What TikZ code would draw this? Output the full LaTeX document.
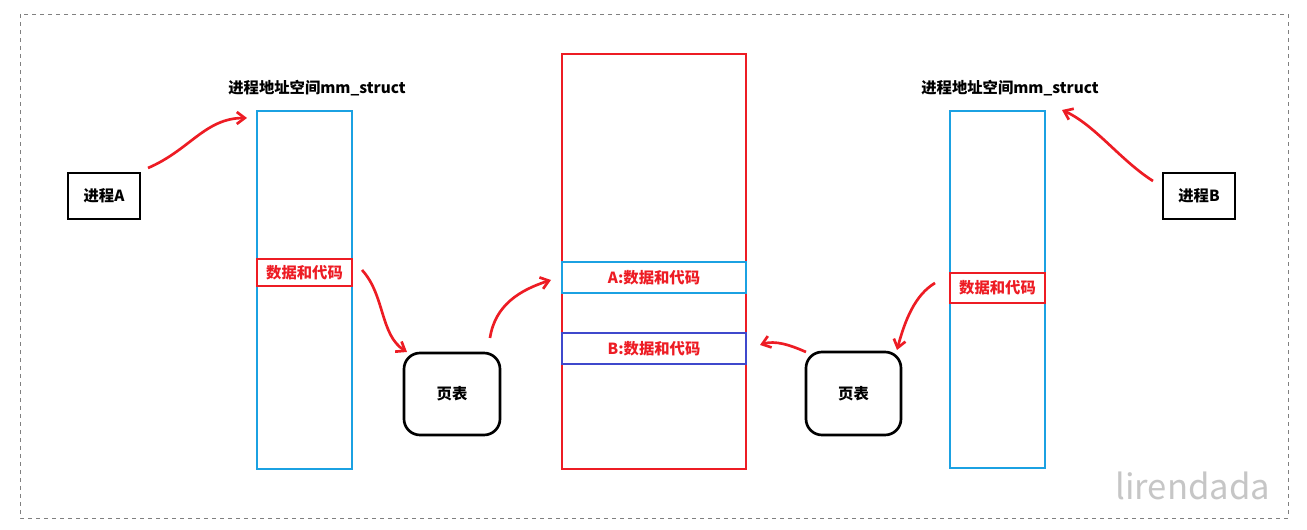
\documentclass[tikz,border=0pt]{standalone}
\usepackage{fontspec}
\setmainfont{Noto Sans CJK SC}
\usepackage{tikz}
\usetikzlibrary{positioning,arrows.meta}
\definecolor{sky}{HTML}{1BA1E2}
\definecolor{hand}{HTML}{ED1C24}
\definecolor{deepblue}{HTML}{3F48CC}
\begin{document}
\begin{tikzpicture}[x=0.75pt,y=0.75pt,yscale=-1,xscale=1,
  box/.style={draw,line width=2pt},
  lbl/.style={font=\bfseries\fontsize{11.5}{13}\selectfont},
  redlbl/.style={lbl,text=hand},
  hw/.style={hand,line width=2pt,-{Straight Barb[length=6pt,width=9pt]}}]
\useasboundingbox (0,0) rectangle (1307,530);
%border
\draw[gray,dashed] (20,14) rectangle (1288,518);

%process A side
\draw[box] (68,173) rectangle (140,219);
\node[lbl] (pA) at (104,196) {进程A};
\draw[box,sky] (257,111) rectangle (352,469);
\coordinate (mmA) at (247,118);
\node[lbl] (tA) at (317,88) {进程地址空间mm\_struct};
\draw[box,hand] (257,259) rectangle (352,286);
\node[redlbl] (dA) at (304.5,272.5) {数据和代码};
\draw[box,rounded corners=12pt] (404,353) rectangle (500,435);
\node[lbl] (ptA) at (452,394) {页表};

%physical memory
\draw[box,hand] (562,54) rectangle (746,469);
\draw[box,sky] (562,262) rectangle (746,293);
\node[redlbl] (memA) at (654,277.5) {A:数据和代码};
\draw[box,deepblue] (562,333) rectangle (746,364);
\node[redlbl] (memB) at (654,348.5) {B:数据和代码};

%process B side
\draw[box] (1163,173) rectangle (1235,219);
\node[lbl] (pB) at (1199,196) {进程B};
\draw[box,sky] (950,111) rectangle (1045,468);
\node[lbl] (tB) at (1010,88) {进程地址空间mm\_struct};
\draw[box,hand] (950,273) rectangle (1045,303);
\node[redlbl] (dB) at (997.5,288) {数据和代码};
\draw[box,rounded corners=12pt] (806,352) rectangle (901,435);
\node[lbl] (ptB) at (853.5,393.5) {页表};

%hand arrows
\draw[hw] (148,168) .. controls (190,150) and (205,118) .. (247,118);
\draw[hw] (362,270) .. controls (385,295) and (380,335) .. (407,352);
\draw[hw] (490,338) .. controls (495,305) and (520,290) .. (551,280);
\draw[hw] (806,352) .. controls (790,345) and (775,340) .. (760,345);
\draw[hw] (935,283) .. controls (915,295) and (905,320) .. (897,350);
\draw[hw] (1153,181) .. controls (1120,160) and (1095,125) .. (1062,110);

\node[gray!45,font=\fontsize{26}{28}\selectfont,anchor=east] (wm) at (1275,486) {lirendada};
\end{tikzpicture}
\end{document}
